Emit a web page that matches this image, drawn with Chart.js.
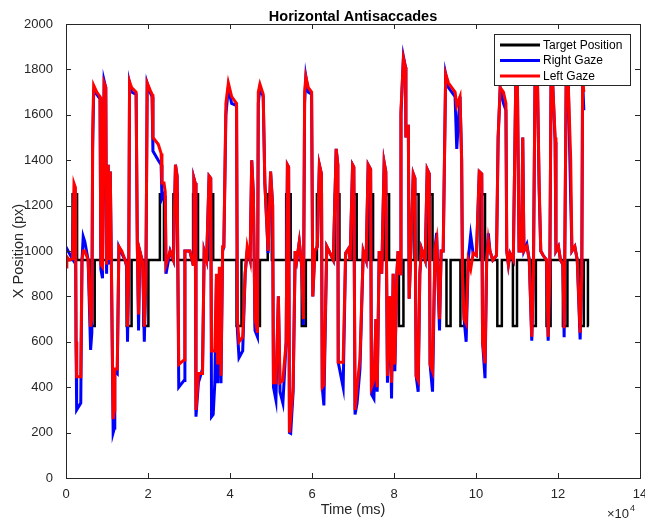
<!DOCTYPE html>
<html>
<head>
<meta charset="utf-8">
<script src="https://cdn.jsdelivr.net/npm/chart.js@4.4.0/dist/chart.umd.min.js"></script>
<style>
  html, body { margin: 0; padding: 0; background: #fff; }
</style>
</head>
<body>
<canvas id="chart" width="645" height="521"></canvas>
<script>
// sample times (ms) shared by both gaze traces
const gazeTimeMs = [
  0, 200, 800, 1600, 1950, 2300, 2450, 2600, 3600, 3900, 4200, 4600, 5400, 6000, 6300, 6500, 6750,
  7500, 8300, 8500, 8900, 9300, 9700, 9900, 10300, 10600, 10800, 11100, 11500, 11800, 11900, 12500,
  12900, 13600, 14400, 14800, 15000, 15300, 15500, 16000, 17100, 17400, 17700, 18000, 18700, 19100,
  19500, 19800, 20500, 21000, 21200, 22500, 23200, 23400, 23900, 24200, 24400, 25400, 26200, 26700,
  27100, 27500, 28800, 29000, 30200, 31000, 31200, 31500, 31700, 32300, 33300, 33700, 34300, 34900,
  35300, 35500, 35900, 36300, 36700, 37000, 37400, 37800, 38200, 38500, 39000, 39600, 40400, 41600,
  41800, 42200, 43100, 43700, 44200, 44900, 45300, 45700, 46100, 46700, 46900, 47300, 48100, 48500,
  49300, 49900, 50400, 50600, 51200, 51800, 52200, 52900, 53700, 54000, 54300, 54500, 54800, 55400,
  55900, 56300, 56900, 57500, 57900, 58200, 58500, 59100, 59900, 60200, 60700, 61300, 61800, 62300,
  62500, 62900, 63600, 64400, 65200, 65900, 66300, 66400, 67600, 68200, 68900, 69300, 69900, 70200,
  70500, 71000, 71700, 72500, 73200, 73700, 74300, 74500, 75100, 75600, 75900, 76400, 77000, 77600,
  78000, 78400, 79000, 79400, 79800, 80200, 80700, 81000, 81500, 81700, 82300, 82800, 82900, 83100,
  83500, 83700, 84100, 84700, 85100, 85400, 85900, 86300, 86700, 87600, 88100, 88600, 88800, 89400,
  90000, 90400, 91100, 91500, 92000, 92600, 93300, 94100, 94900, 95300, 96100, 96500, 96700, 97100,
  97600, 98100, 98700, 99300, 100100, 100800, 101400, 101600, 102200, 102600, 103000, 103400, 104100,
  105000, 105400, 105900, 106700, 107300, 107500, 107900, 108300, 109100, 109700, 110100, 110500,
  111100, 111400, 111700, 112400, 113000, 113600, 114000, 114400, 115000, 115400, 115800, 116400,
  117200, 117600, 118000, 118300, 118700, 119300, 119500, 120100, 120600, 121200, 121500, 122000,
  122500, 123100, 123400, 124100, 124700, 125400, 125800, 126000, 126300
]
const leftGaze = [
  930, 975, 960, 965, 1298, 1280, 600, 446, 446, 960, 1000, 1000, 960, 667, 700, 1520, 1730,
  1700, 1680, 940, 930, 1740, 1720, 940, 1380, 960, 1350, 900, 260, 300, 480, 480,
  1019, 1000, 960, 940, 667, 900, 1746, 1720, 1700, 1020, 720, 1000, 950, 667,
  900, 1740, 1710, 1690, 1500, 1470, 1430, 1300, 1300, 1260, 940, 1000, 960, 1380,
  1330, 500, 520, 1000, 1000, 940, 1320, 1300, 300, 460, 460, 1000, 960, 1330,
  1320, 560, 560, 560, 900, 500, 930, 450, 1019, 1019, 1650, 1740, 1680, 1650,
  700, 600, 620, 900, 1020, 960, 1400, 1250, 700, 640, 1700, 1735, 1690, 1300,
  1000, 1350, 1200, 420, 420, 800, 420, 430, 600, 1380, 1370, 200, 260, 400,
  1000, 960, 1040, 930, 700, 1700, 1768, 1720, 1700, 800, 1000, 1019, 1380, 1340,
  400, 410, 1020, 990, 960, 1450, 1380, 510, 510, 990, 1010, 960, 1380, 1370,
  300, 400, 525, 1000, 960, 1380, 1360, 400, 430, 700, 400, 1000, 900, 1390,
  1350, 450, 800, 420, 900, 500, 900, 1000, 900, 1620, 1850, 1810, 1500, 1550,
  1550, 790, 1000, 1340, 1320, 450, 430, 900, 1010, 960, 1360, 1340, 500, 470,
  1010, 1050, 700, 1000, 1000, 1780, 1740, 1720, 1700, 1640, 1680, 1400, 900, 700,
  680, 960, 920, 990, 980, 1350, 1340, 600, 505, 960, 1050, 1000, 960,
  980, 1500, 1720, 1700, 1650, 1000, 940, 990, 960, 1750, 1740, 1000,
  1000, 1500, 1000, 1020, 960, 622, 900, 1760, 1740, 1300, 1000, 980,
  960, 622, 900, 1750, 1740, 1500, 1000, 1020, 960, 940, 660, 1760,
  1740, 1400, 1000, 1020, 960, 640, 900, 1760, 1700
]
const rightGaze = [
  1000, 1010, 990, 965, 1250, 1250, 600, 300, 330, 960, 1063, 1040, 960, 564, 640, 1450, 1700,
  1690, 1670, 920, 880, 1750, 1720, 900, 1380, 940, 1350, 880, 200, 220, 470, 460,
  1019, 990, 960, 930, 600, 900, 1740, 1700, 1690, 1020, 650, 1000, 950, 600,
  900, 1740, 1700, 1680, 1440, 1400, 1380, 1230, 1250, 1240, 900, 1000, 960, 1380,
  1330, 400, 430, 1000, 1000, 940, 1320, 1300, 270, 420, 480, 1000, 960, 1330,
  1320, 270, 280, 420, 880, 417, 900, 417, 1000, 1019, 1600, 1720, 1650, 1640,
  650, 530, 560, 900, 1000, 960, 1400, 1250, 650, 622, 1650, 1720, 1680, 1300,
  990, 1350, 1200, 400, 343, 800, 380, 330, 600, 1380, 1370, 200, 197, 380,
  1000, 960, 1040, 930, 674, 1650, 1768, 1700, 1690, 800, 1000, 1019, 1380, 1340,
  400, 320, 1020, 990, 960, 1450, 1380, 510, 400, 990, 1010, 960, 1380, 1370,
  280, 330, 480, 1000, 960, 1380, 1360, 370, 350, 700, 380, 1000, 900, 1390,
  1350, 420, 800, 350, 900, 470, 900, 1000, 900, 1600, 1856, 1810, 1500, 1550,
  1550, 790, 1000, 1340, 1320, 450, 380, 900, 1010, 960, 1360, 1340, 500, 380,
  1010, 1080, 650, 1000, 1000, 1780, 1720, 1700, 1680, 1450, 1680, 1400, 900, 700,
  600, 960, 1070, 990, 980, 1350, 1340, 600, 440, 960, 1078, 1000, 960,
  980, 1500, 1720, 1650, 1620, 1000, 940, 990, 960, 1750, 1740, 1000,
  1000, 1500, 1000, 1030, 960, 605, 900, 1760, 1740, 1270, 1000, 980,
  960, 605, 900, 1750, 1740, 1480, 1000, 1020, 960, 940, 620, 1760,
  1740, 1225, 1000, 1020, 960, 610, 900, 1760, 1620
]
// target position: value holds from each time until the next one
const targetTimeMs = [
  0, 1600, 2700, 5900, 7000, 14800, 16000, 18900, 20100, 22900, 23900, 26200, 27200, 31000, 32200,
  34700, 35900, 41600, 42800, 46100, 47300, 49200, 50200, 53700, 54800, 57500, 58500, 61200, 62400,
  65600, 66700, 69800, 70900, 73800, 74900, 77700, 78800, 81200, 82300, 85000, 86000, 88300, 89400,
  92800, 93800, 96200, 97300, 101100, 102200, 105200, 106300, 109000, 110000, 113600, 114600,
  117200, 118200, 121200, 122300, 125300, 126300, 127300, 127500
]
const targetPos = [
  960, 1250, 960, 670, 960, 670, 960, 670, 960, 1250, 960, 1250, 960, 1250, 960,
  1250, 960, 670, 960, 670, 960, 1250, 960, 1250, 960, 670, 960, 1250, 960,
  1250, 960, 1250, 960, 1250, 960, 1250, 960, 670, 960, 1250, 960, 1250, 960,
  670, 960, 670, 960, 1250, 960, 670, 960, 670, 960, 670, 960,
  670, 960, 670, 960, 670, 960, 670, 670
]

const axisColor = '#262626'
const fontFamily = "'Liberation Sans', Arial, Helvetica, sans-serif"

const toPoints = (xs, ys) => xs.map((x, i) => ({ x: x, y: ys[i] }))

// box, inward ticks, title, legend and exponent label (MATLAB look)
const matlabAxes = {
  id: 'matlabAxes',
  afterDatasetsDraw(chart) {
    const { ctx, chartArea: a, scales } = chart
    const { x, y } = scales
    ctx.save()
    ctx.strokeStyle = axisColor
    ctx.lineWidth = 1
    ctx.strokeRect(Math.round(a.left) + 0.5, Math.round(a.top) + 0.5,
      Math.round(a.width), Math.round(a.height))
    const len = 5
    ctx.beginPath()
    x.ticks.forEach(t => {
      const px = Math.round(x.getPixelForValue(t.value)) + 0.5
      ctx.moveTo(px, a.bottom); ctx.lineTo(px, a.bottom - len)
      ctx.moveTo(px, a.top); ctx.lineTo(px, a.top + len)
    })
    y.ticks.forEach(t => {
      const py = Math.round(y.getPixelForValue(t.value)) + 0.5
      ctx.moveTo(a.left, py); ctx.lineTo(a.left + len, py)
      ctx.moveTo(a.right, py); ctx.lineTo(a.right - len, py)
    })
    ctx.stroke()

    // title
    ctx.fillStyle = '#000'
    ctx.font = 'bold 14.5px ' + fontFamily
    ctx.textAlign = 'center'
    ctx.textBaseline = 'alphabetic'
    ctx.fillText('Horizontal Antisaccades', (a.left + a.right) / 2, 20.5)

    // exponent label
    ctx.fillStyle = axisColor
    ctx.textAlign = 'left'
    ctx.font = '13px ' + fontFamily
    ctx.fillText('\u00d710', 607, 518)
    ctx.font = '9px ' + fontFamily
    ctx.fillText('4', 630, 511)

    // legend
    const lx = 494, ly = 34, lw = 136, lh = 51
    ctx.fillStyle = '#fff'
    ctx.fillRect(lx, ly, lw, lh)
    ctx.strokeStyle = axisColor
    ctx.lineWidth = 1
    ctx.strokeRect(lx + 0.5, ly + 0.5, lw, lh)
    ctx.font = '12px ' + fontFamily
    ctx.textBaseline = 'middle'
    chart.data.datasets.forEach((ds, i) => {
      const rowY = ly + 11 + i * 15.5
      ctx.strokeStyle = ds.borderColor
      ctx.lineWidth = 3
      ctx.beginPath()
      ctx.moveTo(lx + 6, rowY); ctx.lineTo(lx + 46, rowY)
      ctx.stroke()
      ctx.fillStyle = '#000'
      ctx.fillText(ds.label, lx + 49, rowY + 0.5)
    })
    ctx.restore()
  }
}

new Chart(document.getElementById('chart'), {
  type: 'line',
  data: {
    datasets: [
      {
        label: 'Target Position',
        data: toPoints(targetTimeMs, targetPos),
        borderColor: '#000000',
        borderWidth: 2.5,
        stepped: 'before',
        order: 3
      },
      {
        label: 'Right Gaze',
        data: toPoints(gazeTimeMs, rightGaze),
        borderColor: '#0000ff',
        borderWidth: 3,
        order: 2
      },
      {
        label: 'Left Gaze',
        data: toPoints(gazeTimeMs, leftGaze),
        borderColor: '#ff0000',
        borderWidth: 3,
        order: 1
      }
    ]
  },
  options: {
    responsive: false,
    animation: false,
    devicePixelRatio: 1,
    layout: { padding: { top: 24, right: 5, left: 0, bottom: 0 } },
    elements: {
      point: { radius: 0 },
      line: { tension: 0, borderJoinStyle: 'miter', borderCapStyle: 'butt' }
    },
    plugins: {
      legend: { display: false },
      title: { display: false },
      tooltip: { enabled: false }
    },
    scales: {
      x: {
        type: 'linear',
        min: 0,
        max: 140000,
        grid: { display: false },
        border: { display: false },
        ticks: {
          stepSize: 20000,
          maxRotation: 0,
          autoSkip: false,
          color: axisColor,
          padding: 1,
          font: { family: fontFamily, size: 13 },
          callback: (value) => String(value / 10000)
        },
        title: {
          display: true,
          text: 'Time (ms)',
          color: axisColor,
          font: { family: fontFamily, size: 14.5 },
          padding: { top: 0, bottom: 2 }
        },
        afterFit: (scale) => {
          scale.height = 43
          scale.paddingLeft = 0
          scale.paddingRight = 0
        }
      },
      y: {
        min: 0,
        max: 2000,
        grid: { display: false },
        border: { display: false },
        ticks: {
          stepSize: 200,
          autoSkip: false,
          color: axisColor,
          padding: 5,
          font: { family: fontFamily, size: 13 },
          callback: (value) => String(value)
        },
        title: {
          display: true,
          text: 'X Position (px)',
          color: axisColor,
          font: { family: fontFamily, size: 14.5 },
          padding: { top: 10, bottom: 0 }
        },
        afterFit: (scale) => {
          scale.width = 66
          scale.paddingTop = 0
          scale.paddingBottom = 0
        }
      }
    }
  },
  plugins: [matlabAxes]
})
</script>
</body>
</html>
